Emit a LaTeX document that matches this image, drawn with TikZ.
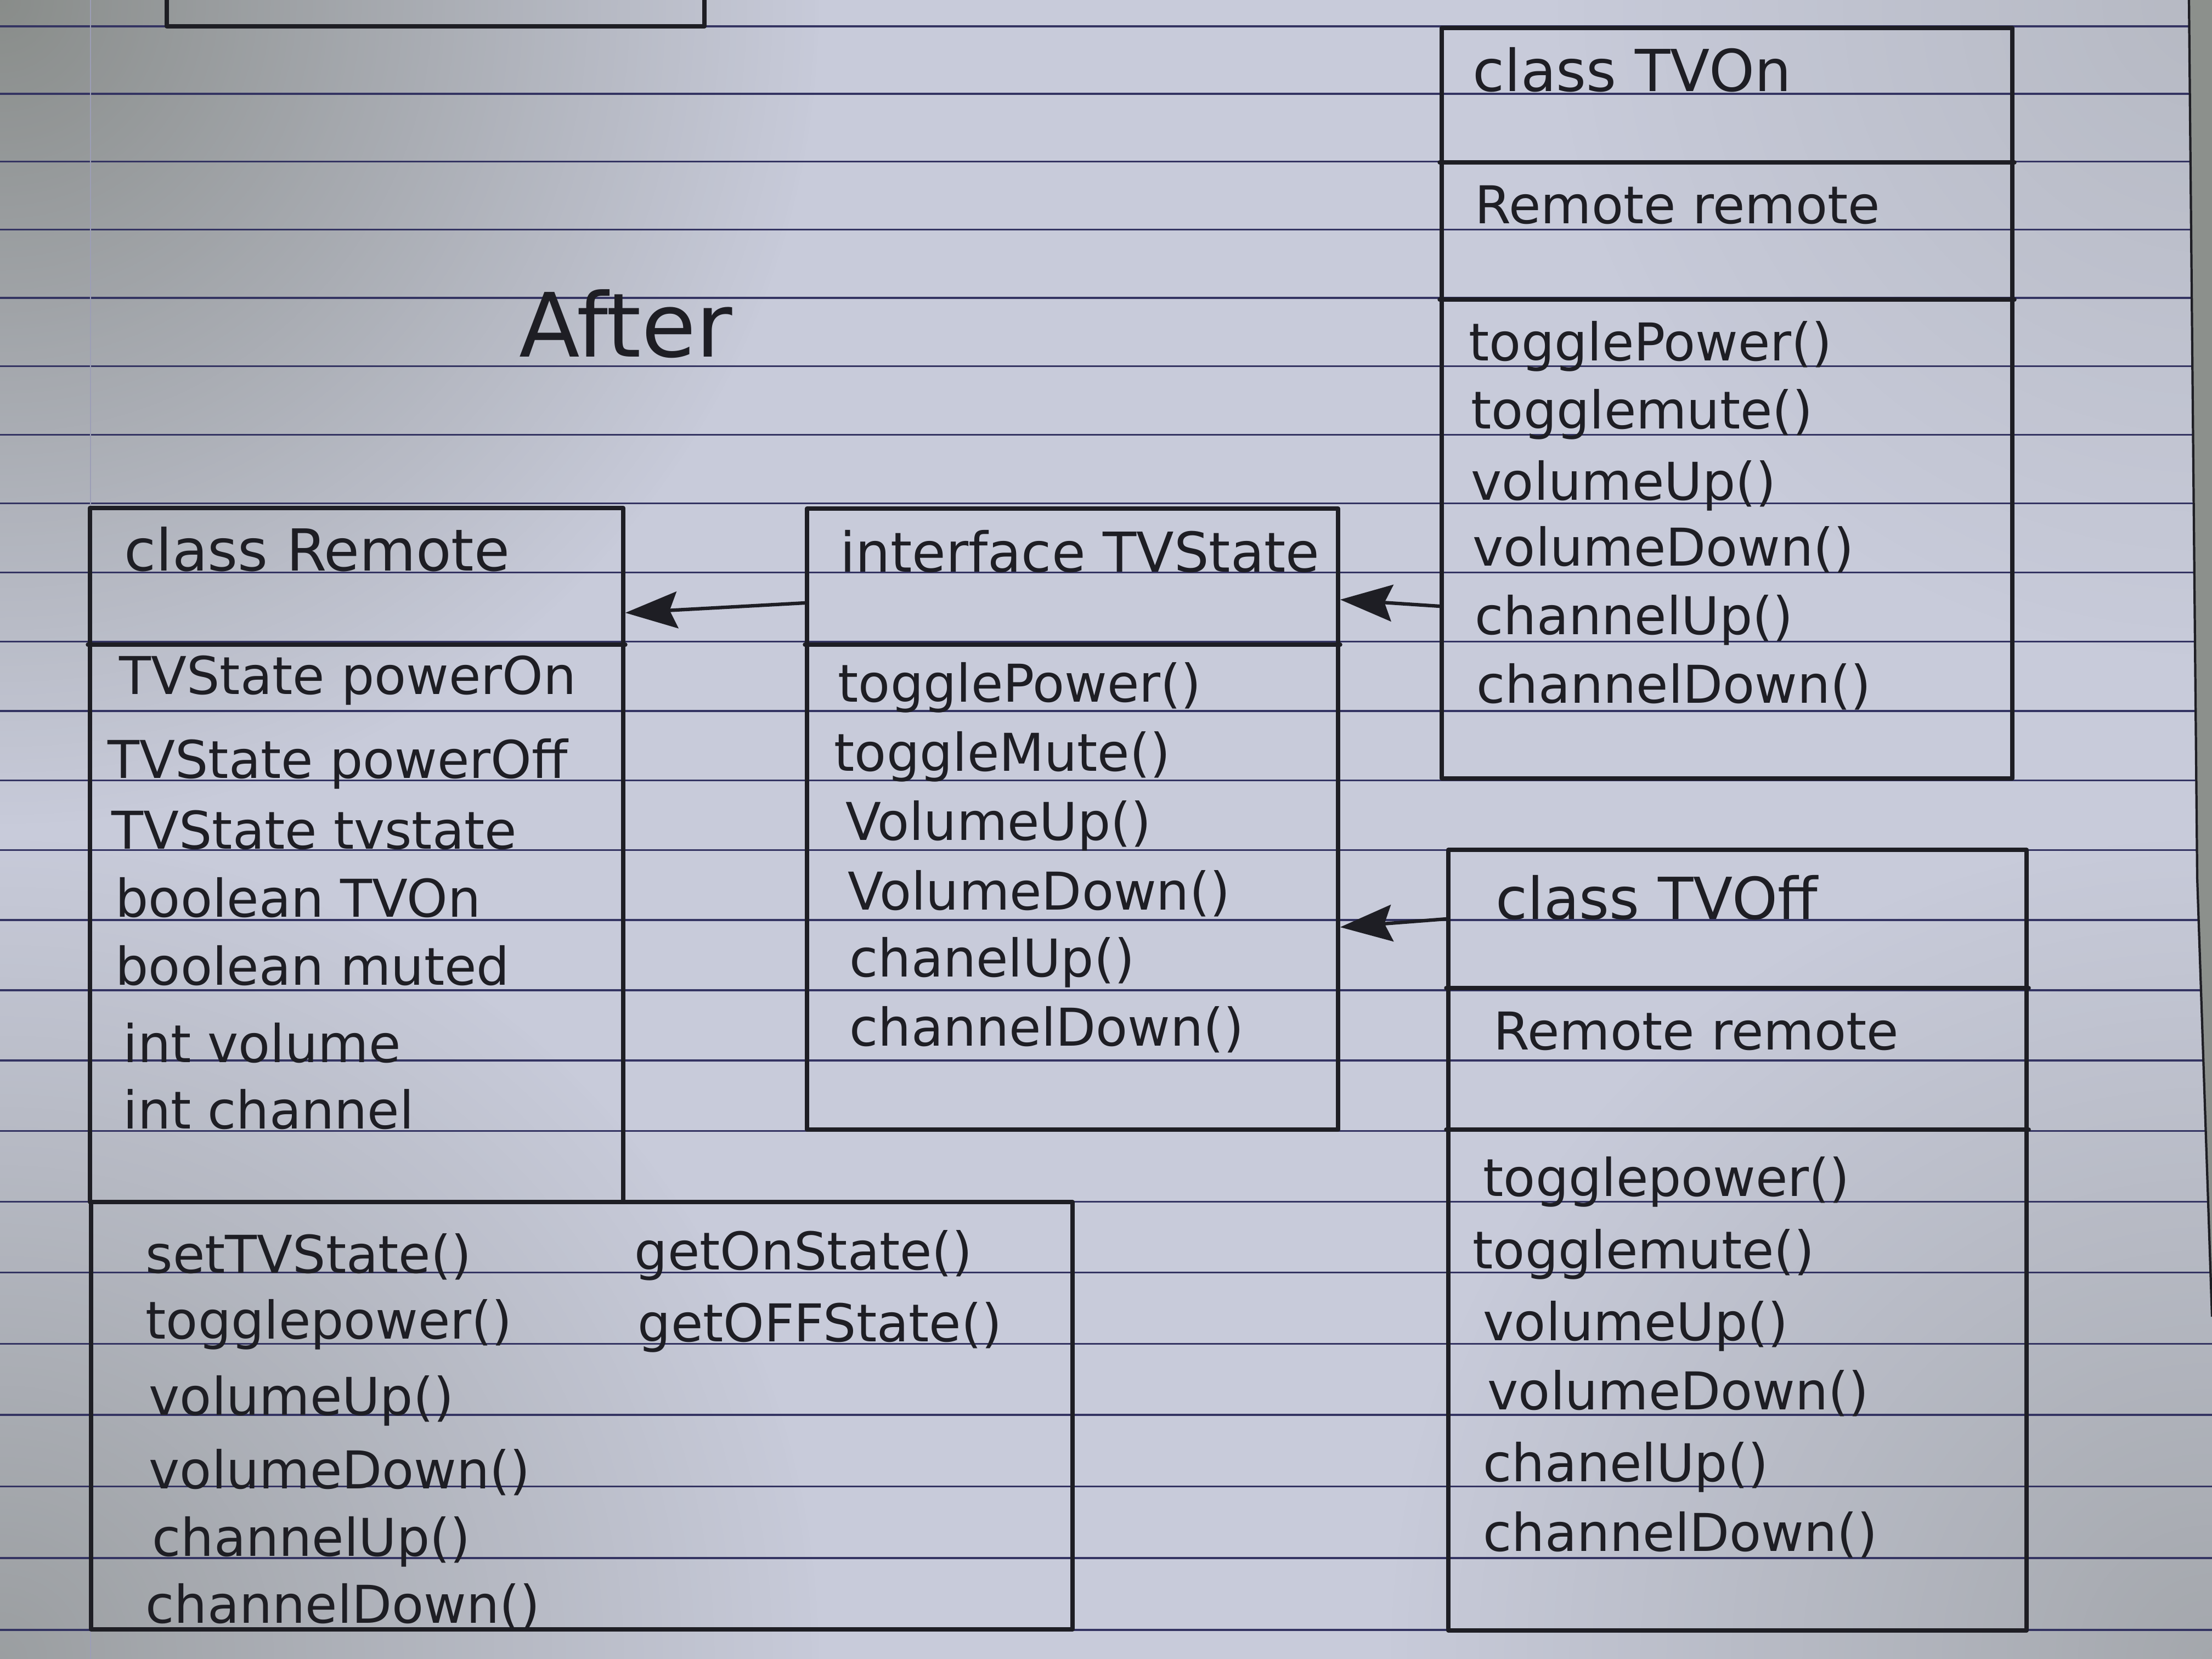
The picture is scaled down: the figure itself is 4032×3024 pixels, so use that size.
\documentclass[tikz,border=0pt]{standalone}
\usepackage{fontspec}
\setmainfont{DejaVu Sans}
\usetikzlibrary{arrows.meta,fit,calc,fadings}

\definecolor{paper}{RGB}{200,203,218}
\definecolor{paperdark}{RGB}{110,114,104}
\definecolor{ruling}{RGB}{52,52,98}
\definecolor{ink}{RGB}{30,30,36}
\definecolor{desk}{RGB}{140,144,140}

\tikzfading[name=blob, inner color=transparent!0, outer color=transparent!100]

\begin{document}
\begin{tikzpicture}[x=0.01cm,y=-0.01cm,
  boxline/.style={draw=ink, line width=2.2pt, line cap=round, line join=round},
  umlbox/.style={boxline, inner sep=0pt, fit={#1}},
  txt/.style={anchor=base west, inner sep=0pt, text=ink, font=\fontsize{27}{30}\selectfont},
  ttl/.style={txt, font=\fontsize{30}{33}\selectfont},
  arr/.style={draw=ink, line width=1.8pt,
    -{Stealth[length=27pt, width=19pt, inset=4pt]}}]

% sheet of ruled paper, a little darker towards the corners
\useasboundingbox (0,0) rectangle (4032,3024);
\clip (0,0) rectangle (4032,3024);
\fill[paper] (0,0) rectangle (4032,3024);
\fill[paperdark, path fading=blob, fill opacity=0.7] (0,0) circle (1500);
\fill[paperdark, path fading=blob, fill opacity=0.5] (0,3024) circle (1500);
\fill[paperdark, path fading=blob, fill opacity=0.4] (4032,3024) circle (1500);
\fill[paperdark, path fading=blob, fill opacity=0.2] (4032,0) circle (1200);
\foreach \k in {0,...,23}
  \draw[ruling, line width=1pt] (0,{48+123*\k+0.178*\k*\k}) -- (4032,{48+123*\k+0.178*\k*\k});
\draw[ruling!30!paper, line width=0.6pt] (165,0) -- (165,3024);
% edge of the sheet and the desk beyond it
\fill[desk] (3990,0) -- (4005,1600) -- (4032,2400) -- (4032,0) -- cycle;
\draw[ink, line width=1.2pt] (3990,0) -- (4005,1600) -- (4032,2400);

% box left over from the previous page
\node[umlbox={(304,-100) (1284,48)}] (prev) {};

% heading
\node[txt, font=\fontsize{46}{50}\selectfont] (after) at (946,650) {After};

% class Remote
\node[umlbox={(164,926) (1136,2191)}] (remote) {};
\node[umlbox={(166,2191) (1955,2970)}] (remoteops) {};
\draw[boxline] (remote.west |- 0,1175) -- (remote.east |- 0,1175);
\node[ttl] (rtitle) at (226,1040) {class Remote};
\node[txt] (rf1) at (217,1265) {TVState powerOn};
\node[txt] (rf2) at (196,1418) {TVState powerOff};
\node[txt] (rf3) at (203,1547) {TVState tvstate};
\node[txt] (rf4) at (210,1671) {boolean TVOn};
\node[txt] (rf5) at (210,1795) {boolean muted};
\node[txt] (rf6) at (224,1936) {int volume};
\node[txt] (rf7) at (224,2057) {int channel};
\node[txt] (rm1) at (265,2320) {setTVState()};
\node[txt] (rm2) at (265,2440) {togglepower()};
\node[txt] (rm3) at (271,2579) {volumeUp()};
\node[txt] (rm4) at (271,2713) {volumeDown()};
\node[txt] (rm5) at (277,2836) {channelUp()};
\node[txt] (rm6) at (265,2958) {channelDown()};
\node[txt] (rm7) at (1156,2314) {getOnState()};
\node[txt] (rm8) at (1162,2445) {getOFFState()};

% interface TVState
\node[umlbox={(1471,927) (2439,2059)}] (iface) {};
\draw[boxline] (iface.west |- 0,1175) -- (iface.east |- 0,1175);
\node[ttl, font=\fontsize{28.5}{31}\selectfont] (ititle) at (1531,1042) {interface TVState};
\node[txt] (im1) at (1527,1279) {togglePower()};
\node[txt] (im2) at (1520,1405) {toggleMute()};
\node[txt] (im3) at (1541,1531) {VolumeUp()};
\node[txt] (im4) at (1545,1658) {VolumeDown()};
\node[txt] (im5) at (1548,1780) {chanelUp()};
\node[txt] (im6) at (1548,1906) {channelDown()};

% class TVOn
\node[umlbox={(2628,51) (3668,1419)}] (tvon) {};
\draw[boxline] (tvon.west |- 0,296) -- (tvon.east |- 0,296);
\draw[boxline] (tvon.west |- 0,546) -- (tvon.east |- 0,546);
\node[ttl] (ontitle) at (2684,166) {class TVOn};
\node[txt] (onf1) at (2688,407) {Remote remote};
\node[txt] (onm1) at (2677,657) {togglePower()};
\node[txt] (onm2) at (2681,781) {togglemute()};
\node[txt] (onm3) at (2681,911) {volumeUp()};
\node[txt] (onm4) at (2684,1031) {volumeDown()};
\node[txt] (onm5) at (2688,1156) {channelUp()};
\node[txt] (onm6) at (2691,1281) {channelDown()};

% class TVOff
\node[umlbox={(2640,1549) (3694,2972)}] (tvoff) {};
\draw[boxline] (tvoff.west |- 0,1801) -- (tvoff.east |- 0,1801);
\draw[boxline] (tvoff.west |- 0,2059) -- (tvoff.east |- 0,2059);
\node[ttl] (offtitle) at (2726,1675) {class TVOff};
\node[txt] (offf1) at (2722,1913) {Remote remote};
\node[txt] (offm1) at (2703,2180) {togglepower()};
\node[txt] (offm2) at (2684,2312) {togglemute()};
\node[txt] (offm3) at (2703,2443) {volumeUp()};
\node[txt] (offm4) at (2711,2569) {volumeDown()};
\node[txt] (offm5) at (2703,2700) {chanelUp()};
\node[txt] (offm6) at (2703,2827) {channelDown()};

% connectors
\coordinate (a1s) at (iface.west |- 0,1099);
\coordinate (a1e) at (remote.east |- 0,1117);
\coordinate (a2s) at (tvon.west |- 0,1105);
\coordinate (a2e) at (iface.east |- 0,1093);
\coordinate (a3s) at (tvoff.west |- 0,1675);
\coordinate (a3e) at (iface.east |- 0,1690);
\draw[arr] (a1s) -- (a1e);
\draw[arr] (a2s) -- (a2e);
\draw[arr] (a3s) -- (a3e);
\end{tikzpicture}
\end{document}
